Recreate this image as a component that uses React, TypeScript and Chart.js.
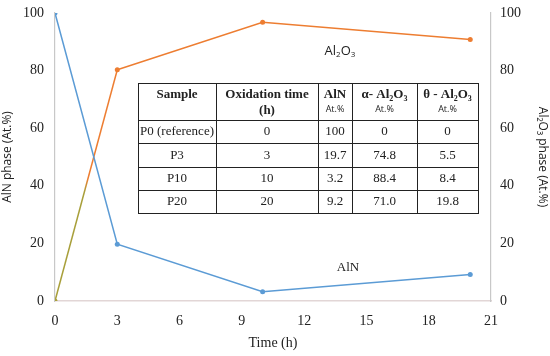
import React, { useEffect, useRef } from "react";
import { Chart, registerables } from "chart.js";

Chart.register(...registerables);

// ---- data ----
const timeH = [0, 3, 10, 20];
const alnPct = [100, 19.7, 3.2, 9.2];
const al2o3Pct = [0, 80.3, 96.8, 90.8];

const sampleNames = ["P0 (reference)", "P3", "P10", "P20"];
const oxidationTimes = ["0", "3", "10", "20"];
const alnCol = ["100", "19.7", "3.2", "9.2"];
const alphaCol = ["0", "74.8", "88.4", "71.0"];
const thetaCol = ["0", "5.5", "8.4", "19.8"];

const xMin = 0;
const xMax = 21;
const xStep = 3;
const yMin = 0;
const yMax = 100;
const yStep = 20;

const BLUE = "#5B9BD5";
const ORANGE = "#ED7D31";
const OLIVE = "#A89F3A";
const SERIF = "'Liberation Serif', 'Times New Roman', serif";
const SANS = "'Open Sans', 'Noto Sans', sans-serif";

type Part = [string, boolean];

function drawRich(
  ctx: CanvasRenderingContext2D,
  parts: Part[],
  cx: number,
  cy: number,
  size: number,
  weight: string,
  family: string
) {
  const subSize = Math.round(size * 0.65);
  let total = 0;
  for (const [t, sub] of parts) {
    ctx.font = `${weight} ${sub ? subSize : size}px ${family}`;
    total += ctx.measureText(t).width;
  }
  let x = cx - total / 2;
  ctx.textAlign = "left";
  ctx.textBaseline = "middle";
  for (const [t, sub] of parts) {
    ctx.font = `${weight} ${sub ? subSize : size}px ${family}`;
    ctx.fillText(t, x, sub ? cy + size * 0.3 : cy);
    x += ctx.measureText(t).width;
  }
}

function drawText(
  ctx: CanvasRenderingContext2D,
  t: string,
  cx: number,
  cy: number,
  font: string
) {
  ctx.font = font;
  ctx.textAlign = "center";
  ctx.textBaseline = "middle";
  ctx.fillText(t, cx, cy);
}

const overlayPlugin = {
  id: "overlay",
  afterDraw(chart: any) {
    const ctx: CanvasRenderingContext2D = chart.ctx;
    ctx.save();
    ctx.fillStyle = "#222";
    // in-plot labels
    drawRich(ctx, [["Al", false], ["2", true], ["O", false], ["3", true]], 340, 51, 13, "normal", SANS);
    drawText(ctx, "AlN", 348, 268, `13px ${SERIF}`);

    // table
    const cols = [138, 216, 318, 352, 417, 478];
    const rows = [83, 120, 143, 167, 190, 213];
    ctx.fillStyle = "#ffffff";
    ctx.fillRect(cols[0], rows[0], cols[cols.length - 1] - cols[0], rows[rows.length - 1] - rows[0]);
    ctx.strokeStyle = "#222";
    ctx.lineWidth = 1;
    ctx.beginPath();
    for (const y of rows) {
      ctx.moveTo(cols[0], y + 0.5);
      ctx.lineTo(cols[cols.length - 1] + 1, y + 0.5);
    }
    for (const x of cols) {
      ctx.moveTo(x + 0.5, rows[0]);
      ctx.lineTo(x + 0.5, rows[rows.length - 1] + 1);
    }
    ctx.stroke();

    const mid = (i: number) => (cols[i] + cols[i + 1]) / 2;
    ctx.fillStyle = "#222";
    const hb = `bold 13px ${SERIF}`;
    const small = `9px ${SANS}`;
    drawText(ctx, "Sample", mid(0), 95, hb);
    drawText(ctx, "Oxidation time", mid(1), 95, hb);
    drawText(ctx, "(h)", mid(1), 111, hb);
    drawText(ctx, "AlN", mid(2), 95, hb);
    drawText(ctx, "At.%", mid(2), 109, small);
    drawRich(ctx, [["α- Al", false], ["2", true], ["O", false], ["3", true]], mid(3), 95, 13, "bold", SERIF);
    drawText(ctx, "At.%", mid(3), 109, small);
    drawRich(ctx, [["θ - Al", false], ["2", true], ["O", false], ["3", true]], mid(4), 95, 13, "bold", SERIF);
    drawText(ctx, "At.%", mid(4), 109, small);

    const body = `13px ${SERIF}`;
    const colsData = [sampleNames, oxidationTimes, alnCol, alphaCol, thetaCol];
    for (let r = 0; r < sampleNames.length; r++) {
      const cy = (rows[r + 1] + rows[r + 2]) / 2 + 0.5;
      for (let c = 0; c < colsData.length; c++) {
        drawText(ctx, colsData[c][r], mid(c), cy, body);
      }
    }
    ctx.restore();
  },
};

export default function App() {
  const ref = useRef<HTMLCanvasElement>(null);
  useEffect(() => {
    document.body.style.margin = "0";
    if (!ref.current) return;
    let chartRef: any = null;
    const chart = new Chart(ref.current, {
      type: "line",
      data: {
        datasets: [
          {
            label: "AlN",
            data: timeH.map((t, i) => ({ x: t, y: alnPct[i] })),
            borderColor: BLUE,
            backgroundColor: BLUE,
            borderWidth: 1.5,
            pointRadius: 2.5,
            pointBorderWidth: 0,
            yAxisID: "y",
          },
          {
            label: "Al2O3",
            data: timeH.map((t, i) => ({ x: t, y: al2o3Pct[i] })),
            borderColor: ORANGE,
            backgroundColor: timeH.map((_, i) => (i === 0 ? OLIVE : ORANGE)),
            borderWidth: 1.5,
            pointRadius: 2.5,
            pointBorderWidth: 0,
            yAxisID: "y1",
            segment: {
              borderColor: (c: any) => {
                if (c.p0DataIndex !== 0 || !chartRef) return undefined;
                const g = chartRef.ctx.createLinearGradient(c.p0.x, c.p0.y, c.p1.x, c.p1.y);
                g.addColorStop(0, OLIVE);
                g.addColorStop(0.47, OLIVE);
                g.addColorStop(0.53, ORANGE);
                g.addColorStop(1, ORANGE);
                return g;
              },
            },
          },
        ],
      },
      options: {
        animation: false,
        responsive: true,
        maintainAspectRatio: false,
        layout: { padding: { top: 13, left: 0, right: 0, bottom: 0 } },
        plugins: { legend: { display: false }, tooltip: { enabled: false } },
        scales: {
          x: {
            type: "linear",
            min: xMin,
            max: xMax,
            grid: { display: false, drawTicks: false },
            border: { display: true, color: "#e2d6d6", width: 1.5 },
            ticks: {
              stepSize: xStep,
              padding: 12,
              color: "#222",
              font: { family: SERIF, size: 14 },
            },
            title: {
              display: true,
              text: "Time (h)",
              color: "#222",
              font: { family: SERIF, size: 14 },
              padding: { top: 0, bottom: 4 },
            },
            afterFit: (s: any) => {
              s.height = 55;
            },
          },
          y: {
            position: "left",
            min: yMin,
            max: yMax,
            grid: {
              display: true,
              drawOnChartArea: false,
              drawTicks: true,
              tickLength: 9,
              tickColor: "rgba(0,0,0,0)",
            },
            border: { display: true, color: "#c8c8c8", width: 1.2 },
            ticks: {
              stepSize: yStep,
              padding: 2,
              color: "#222",
              font: { family: SERIF, size: 14 },
            },
            title: {
              display: true,
              text: "AlN phase (At.%)",
              color: "#222",
              font: { family: SANS, size: 12 },
              padding: { top: 0, bottom: 0 },
            },
            afterFit: (s: any) => {
              s.width = 55;
            },
          },
          y1: {
            position: "right",
            min: yMin,
            max: yMax,
            grid: {
              display: true,
              drawOnChartArea: false,
              drawTicks: true,
              tickLength: 7,
              tickColor: "rgba(0,0,0,0)",
            },
            border: { display: true, color: "#c8c8c8", width: 1.2 },
            ticks: {
              stepSize: yStep,
              padding: 2,
              color: "#222",
              font: { family: SERIF, size: 14 },
            },
            title: {
              display: true,
              text: "Al₂O₃ phase (At.%)",
              color: "#222",
              font: { family: SANS, size: 12 },
              padding: { top: 0, bottom: 0 },
            },
            afterFit: (s: any) => {
              s.width = 59;
            },
          },
        },
      },
      plugins: [overlayPlugin],
    });
    chartRef = chart;
    chart.update();
    return () => chart.destroy();
  }, []);
  return (
    <div style={{ width: 550, height: 356, position: "relative" }}>
      <canvas ref={ref} />
    </div>
  );
}
